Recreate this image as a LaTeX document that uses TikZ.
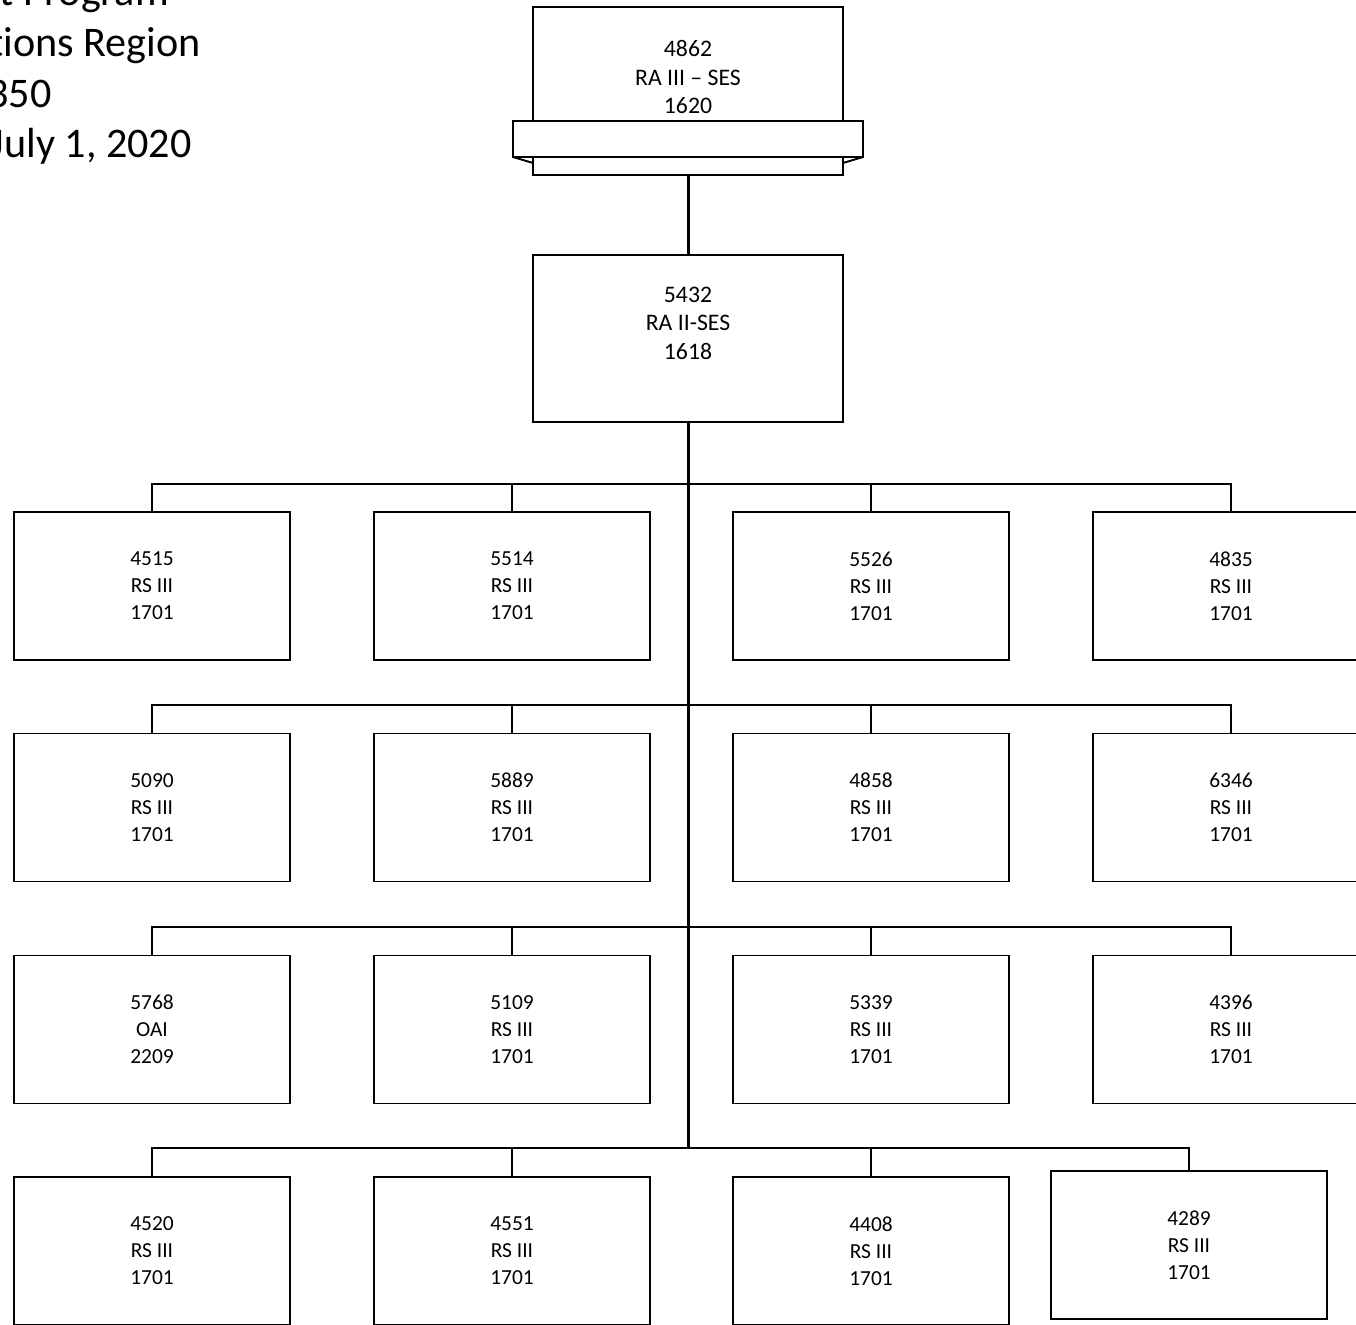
\documentclass[tikz,border=0pt]{standalone}
\usepackage{fontspec}
\setmainfont{Carlito}[Ligatures=NoCommon]
\usetikzlibrary{positioning}

\begin{document}
\begin{tikzpicture}[x=0.02cm,y=-0.02cm,
  post/.style={draw,line width=1.1pt,minimum width=5.52cm,minimum height=2.96cm,
    inner sep=0pt,align=center,font=\fontsize{12.2}{15.4}\selectfont},
  head/.style={draw,line width=1.1pt,minimum width=6.2cm,inner sep=0pt},
  headtxt/.style={align=center,inner sep=0pt,font=\fontsize{13.5}{16.2}\selectfont},
  title/.style={anchor=base east,inner sep=0pt,font=\fontsize{24}{29}\selectfont},
  bus/.style={line width=1.1pt},
  trunk/.style={line width=1.7pt}]
 \useasboundingbox (0,0) rectangle (1356,1325);
 \clip (0,0) rectangle (1356,1325);

 % heading, cut off at the left edge
 \node[title] (t1) at (169,6)   {t Program};
 \node[title] (t2) at (201,56)  {tions Region};
 \node[title] (t3) at (52,107)  {350};
 \node[title] (t4) at (192,157) {July 1, 2020};

 % top post with its ribbon
 \node[head,minimum height=3.36cm] (ses3) at (688,91) {};
 \draw[line width=1.1pt] (513,157) -- (533,163) (863,157) -- (843,163);
 \draw[line width=1.1pt,fill=white] (513,121) rectangle (863,157);
 \node[headtxt] (ses3txt) at (688,77) {4862\\RA III – SES\\1620};

 \node[head,minimum height=3.34cm] (ses2) at (688,338.5) {};
 \node[headtxt] (ses2txt) at (688,323) {5432\\RA II-SES\\1618};
 \draw[trunk] (ses3.south) -- (ses2.north);

 % staff rows
 \node[post] (r1c1) at (152,586)  {4515\\RS III\\1701};
 \node[post] (r1c2) at (512,586)  {5514\\RS III\\1701};
 \node[post] (r1c3) at (871,586)  {5526\\RS III\\1701};
 \node[post] (r1c4) at (1231,586) {4835\\RS III\\1701};

 \node[post] (r2c1) at (152,807.5)  {5090\\RS III\\1701};
 \node[post] (r2c2) at (512,807.5)  {5889\\RS III\\1701};
 \node[post] (r2c3) at (871,807.5)  {4858\\RS III\\1701};
 \node[post] (r2c4) at (1231,807.5) {6346\\RS III\\1701};

 \node[post] (r3c1) at (152,1029.5)  {5768\\OAI\\2209};
 \node[post] (r3c2) at (512,1029.5)  {5109\\RS III\\1701};
 \node[post] (r3c3) at (871,1029.5)  {5339\\RS III\\1701};
 \node[post] (r3c4) at (1231,1029.5) {4396\\RS III\\1701};

 \node[post] (r4c1) at (152,1251) {4520\\RS III\\1701};
 \node[post] (r4c2) at (512,1251) {4551\\RS III\\1701};
 \node[post] (r4c3) at (871,1251) {4408\\RS III\\1701};
 \node[post] (r4c4) at (1189,1245) {4289\\RS III\\1701};

 \coordinate (bus1) at (688,484);
 \coordinate (bus2) at (688,705);
 \coordinate (bus3) at (688,927);
 \coordinate (bus4) at (688,1148);

 \foreach \r in {1,2,3,4} {
   \draw[bus] (r\r c1.north) |- (r\r c4.north |- bus\r) -- (r\r c4.north);
   \foreach \c in {2,3}
     \draw[bus] (r\r c\c.north) -- (r\r c\c.north |- bus\r);
 }
 \draw[trunk] (ses2.south) -- (bus4);
\end{tikzpicture}
\end{document}
